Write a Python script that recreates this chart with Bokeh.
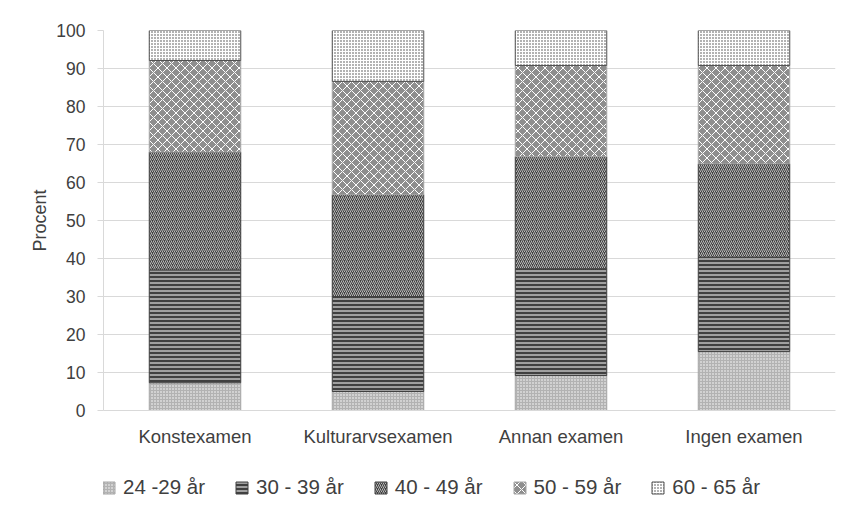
from bokeh.plotting import figure
from bokeh.models import Legend, FactorRange, SingleIntervalTicker
from bokeh.layouts import column
from bokeh.embed import file_html
from bokeh.resources import INLINE

categories = ["Konstexamen", "Kulturarvsexamen", "Annan examen", "Ingen examen"]
age_groups = ["24 -29 år", "30 - 39 år", "40 - 49 år", "50 - 59 år", "60 - 65 år"]
a24_29 = [7.3, 5.0, 9.2, 15.5]
a30_39 = [29.7, 25.0, 28.1, 24.8]
a40_49 = [31.0, 26.8, 29.5, 24.6]
a50_59 = [24.1, 29.8, 24.0, 25.9]
a60_65 = [7.9, 13.4, 9.2, 9.2]

keys = ["a", "b", "c", "d", "e"]
data = {"cat": categories, "a": a24_29, "b": a30_39, "c": a40_49, "d": a50_59, "e": a60_65}

FONT = "Liberation Sans"

p = figure(x_range=FactorRange(*categories, range_padding=0), y_range=(0, 100),
           frame_width=732, frame_height=380, output_backend="svg", toolbar_location=None,
           min_border_left=103, min_border_right=30, min_border_top=30, min_border_bottom=55)

fills = ["#b2b2b2", "#404040", "#404040", "#8e8e8e", "#ffffff"]
hatches = ["dot", "horizontal_line", "right_diagonal_line", "diagonal_cross", "dot"]
hcolors = ["#ffffff", "#ffffff", "#e0e0e0", "#ffffff", "#404040"]
hscales = [3, 4, 4, 9, 3]
hweights = [1, 1, 0.75, 1, 1.3]
lcolors = ["#a6a6a6", "#404040", "#404040", "#a6a6a6", "#505050"]

style = dict(fill_color=fills, hatch_pattern=hatches, hatch_color=hcolors,
             hatch_scale=hscales, hatch_weight=hweights, line_color=lcolors)

p.vbar_stack(keys, x="cat", width=0.5, source=data, line_width=1, **style)

p.yaxis.ticker = SingleIntervalTicker(interval=10)
p.yaxis.axis_label = "Procent"
p.yaxis.axis_label_text_font = FONT
p.yaxis.axis_label_text_font_style = "normal"
p.yaxis.axis_label_text_font_size = "18px"
p.yaxis.axis_label_text_color = "#404040"
p.yaxis.axis_label_standoff = 3
p.yaxis.major_label_text_font = FONT
p.yaxis.major_label_text_font_size = "17.5px"
p.yaxis.major_label_text_color = "#404040"
p.yaxis.axis_line_color = "#d9d9d9"
p.yaxis.major_tick_line_color = "#d9d9d9"
p.yaxis.major_tick_out = 6
p.yaxis.major_tick_in = 0
p.yaxis.minor_tick_line_color = None
p.yaxis.major_label_standoff = 12

p.xaxis.major_label_text_font = FONT
p.xaxis.major_label_text_font_size = "18.5px"
p.xaxis.major_label_text_color = "#404040"
p.xaxis.axis_line_color = "#d9d9d9"
p.xaxis.major_tick_line_color = None
p.xaxis.minor_tick_line_color = None
p.xaxis.major_label_standoff = 9

p.xgrid.grid_line_color = None
p.ygrid.grid_line_color = "#d9d9d9"
p.outline_line_color = None

# legend strip below the chart (proxy glyphs sit outside the visible range)
lg = figure(width=865, height=48, x_range=(0, 1), y_range=(0, 1),
            output_backend="svg", toolbar_location=None,
            x_axis_location=None, y_axis_location=None, min_border=0)
lg.grid.grid_line_color = None
lg.outline_line_color = None
dummies = []
for i, k in enumerate(keys):
    r = lg.rect(x=[-5], y=[-5], width=0.1, height=0.1, line_width=1,
                **{kk: v[i] for kk, v in style.items()})
    dummies.append(r)

legend = Legend(items=[(lbl, [r]) for lbl, r in zip(age_groups, dummies)],
                orientation="horizontal", location=(-2, 14),
                label_text_font=FONT, label_text_font_size="20.5px", label_text_color="#404040",
                glyph_width=15, glyph_height=15, label_standoff=7, spacing=29,
                border_line_color=None, background_fill_alpha=0, padding=0, margin=0)
lg.add_layout(legend, "center")

open("out.html", "w").write(file_html(column(p, lg), INLINE))
